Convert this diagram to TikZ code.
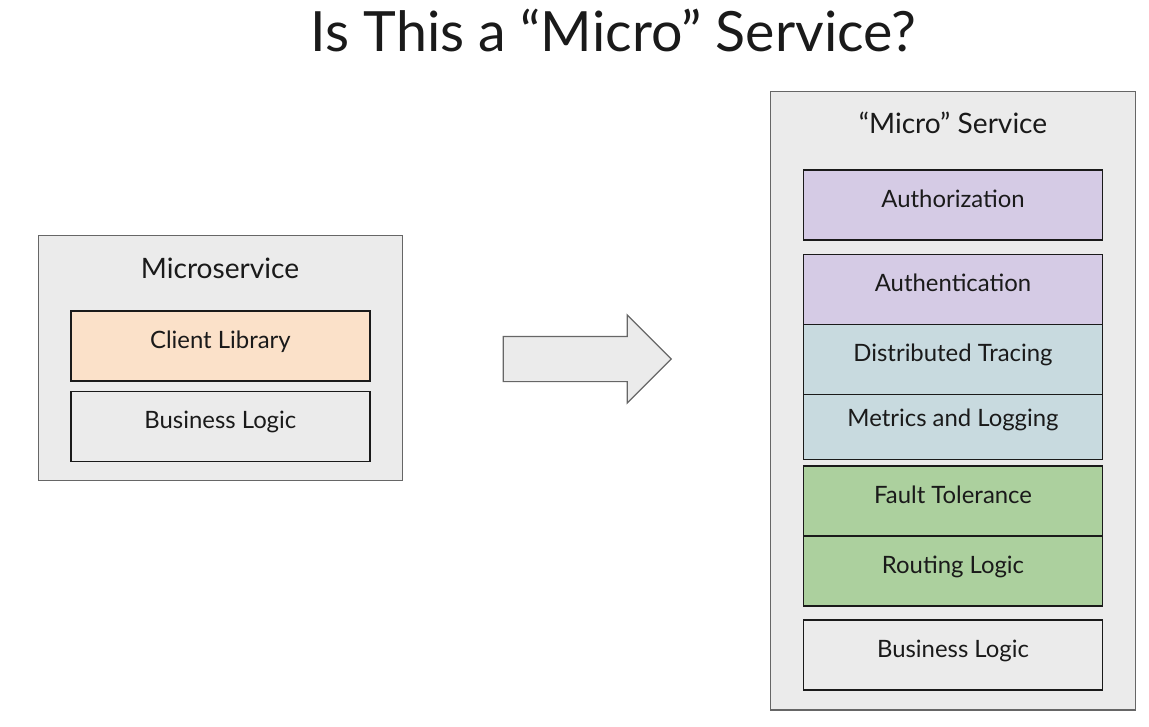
\documentclass[tikz,border=0pt]{standalone}
\usepackage{fontspec}
\setmainfont{Lato}
\usetikzlibrary{positioning, shapes.arrows}

\definecolor{shellgray}{HTML}{EBEBEB}
\definecolor{rimgray}{HTML}{666666}
\definecolor{ink}{HTML}{1A1A1A}
\definecolor{peach}{HTML}{FBE1C9}
\definecolor{lilac}{HTML}{D5CBE5}
\definecolor{steel}{HTML}{C8DADF}
\definecolor{sage}{HTML}{ACD09E}

\begin{document}
\begin{tikzpicture}
	[node distance=0cm, text=ink,
	 shell/.style={draw=rimgray, line width=0.7pt, fill=shellgray},
	 part/.style={draw=ink, line width=0.85pt, outer sep=0pt, inner sep=0pt,
	   minimum width=5.98cm, minimum height=1.4cm, text height=0.36cm, text depth=0.27cm,
	   font=\fontsize{13.6}{16}\selectfont}]
   \useasboundingbox (0,0) rectangle (22.98,-14.52);
   \node (title) at (12.27,-1.04) [anchor=base, font=\fontsize{31.6}{37}\selectfont] {Is This a “Micro” Service?};

   % left: the plain microservice
   \node[shell, minimum width=7.29cm, minimum height=4.9cm] (micro) at (4.41,-7.164) {};
   \node (microname) at (4.40,-5.566) [anchor=base, font=\fontsize{16}{19}\selectfont] {Microservice};
   \node[part, fill=peach] (client) at (4.407,-6.917) {Client Library};
   \node[part, fill=shellgray] (biz) [below=0.21cm of client] {Business Logic};

   % the big arrow
   \node[single arrow, draw=rimgray, fill=shellgray, line width=0.7pt, anchor=tail,
     minimum height=3.36cm, single arrow head extend=0.43cm, inner xsep=0pt, inner ysep=0.44cm]
     (push) at (10.054,-7.18) {};

   % right: the "micro" service
   \node[shell, minimum width=7.308cm, minimum height=12.366cm] (service) at (19.06,-8.017) {};
   \node (servicename) at (19.06,-2.66) [anchor=base, font=\fontsize{16}{19}\selectfont] {“Micro” Service};
   \node[part, fill=lilac] (authz) at (19.06,-4.103) {Authorization};
   \node[part, fill=lilac] (authn) [below=0.29cm of authz] {Authentication};
   \node[part, fill=steel] (tracing) [below=of authn] {Distributed Tracing};
   \node[part, fill=steel, minimum height=1.3cm, text depth=0.39cm] (metrics) [below=of tracing] {Metrics and Logging};
   \node[part, fill=sage] (fault) [below=0.13cm of metrics] {Fault Tolerance};
   \node[part, fill=sage] (routing) [below=of fault] {Routing Logic};
   \node[part, fill=shellgray] (core) [below=0.28cm of routing] {Business Logic};

\end{tikzpicture}
\end{document}
